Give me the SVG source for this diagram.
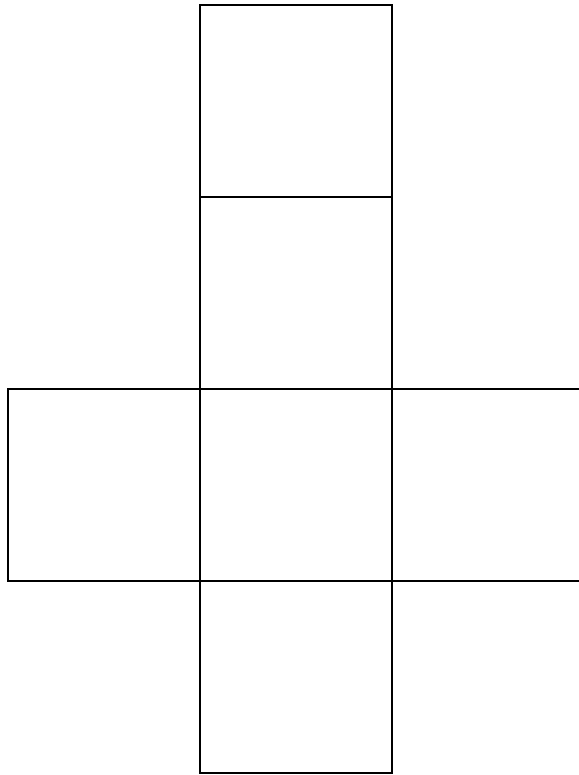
<svg xmlns="http://www.w3.org/2000/svg" width="579" height="775" viewBox="0 0 579 775">
<style>
.face{fill:#ffffff;stroke:#000000;stroke-width:2}
</style>
<rect width="579" height="775" fill="#ffffff"/>
<g id="face-top"><rect class="face" x="200" y="5" width="192" height="192"/></g>
<g id="face-upper"><rect class="face" x="200" y="197" width="192" height="192"/></g>
<g id="face-left"><rect class="face" x="8" y="389" width="192" height="192"/></g>
<g id="face-center"><rect class="face" x="200" y="389" width="192" height="192"/></g>
<g id="face-right"><rect class="face" x="392" y="389" width="192" height="192"/></g>
<g id="face-bottom"><rect class="face" x="200" y="581" width="192" height="192"/></g>
<g id="connectors"></g>
</svg>
